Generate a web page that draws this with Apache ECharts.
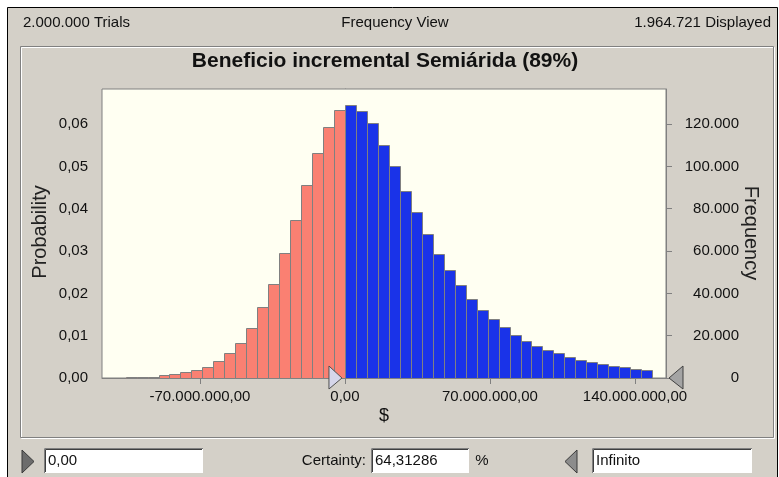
<!DOCTYPE html>
<html>
<head>
<meta charset="utf-8">
<script src="https://cdn.jsdelivr.net/npm/echarts@6/dist/echarts.min.js"></script>
<style>
  html, body { margin: 0; padding: 0; background: #fff; }
  #main { width: 779px; height: 477px; }
</style>
</head>
<body>
<div id="main"></div>
<script>
// histogram data (probability per bin)
const trials = 2000000;
const binStart = -105.9e6;
const binWidth = 5.296e6;
const probBelow = [0.0003, 0.0003, 0.0003, 0.0006, 0.0010, 0.0013, 0.0019, 0.0025, 0.0039, 0.0058,
  0.0083, 0.0117, 0.0167, 0.0223, 0.0295, 0.0373, 0.0455, 0.0531, 0.0593, 0.0633];
const probAbove = [0.0645, 0.0632, 0.0603, 0.0550, 0.0501, 0.0442, 0.0392, 0.0340, 0.0294, 0.0255,
  0.0219, 0.0186, 0.0160, 0.0140, 0.0120, 0.0101, 0.0088, 0.0075, 0.0065, 0.0058,
  0.0049, 0.0043, 0.0038, 0.0032, 0.0028, 0.0026, 0.0022, 0.0019];
const xTicks = [-70e6, 0, 70e6, 140e6];
const probTicks = [0, 0.01, 0.02, 0.03, 0.04, 0.05, 0.06];
const freqTicks = [0, 20000, 40000, 60000, 80000, 100000, 120000];
const xMin = -117.3e6;
const xMax = 155e6;
const probMax = 0.0683;

const FONT = '"Liberation Sans", Arial, sans-serif';

const thousands = (n) => {
  const s = Math.abs(Math.round(n)).toString().replace(/\B(?=(\d{3})+(?!\d))/g, ".");
  return (n < 0 ? "-" : "") + s;
};

const buildBins = (probs, offset) =>
  probs.map((p, i) => {
    const x0 = binStart + (offset + i) * binWidth;
    return [x0, x0 + binWidth, p];
  });

const barRenderer = (color) => (params, api) => {
  const a = api.coord([api.value(0), api.value(2)]);
  const b = api.coord([api.value(1), 0]);
  const x = Math.round(a[0]) + 0.5;
  const x2 = Math.round(b[0]) + 0.5;
  const y = Math.round(a[1]) + 0.5;
  const y2 = Math.round(b[1]) + 0.5;
  return {
    type: "rect",
    shape: { x: x, y: y, width: x2 - x, height: y2 - y },
    style: { fill: color, stroke: "#808080", lineWidth: 1 }
  };
};

const myChart = echarts.init(document.getElementById("main"));

const option = {
  backgroundColor: "#ffffff",
  animation: false,
  textStyle: { fontFamily: FONT },
  grid: {
    left: 102,
    top: 89,
    width: 564,
    height: 289,
    show: true,
    backgroundColor: "#fffff2",
    borderColor: "#808080",
    borderWidth: 1,
    z: 1
  },
  xAxis: {
    type: "value",
    min: xMin,
    max: xMax,
    axisLine: { show: true, lineStyle: { color: "#808080" } },
    axisTick: { show: true, length: 6, customValues: xTicks, lineStyle: { color: "#808080" } },
    axisLabel: {
      customValues: xTicks,
      color: "#111",
      fontSize: 15,
      margin: 11,
      formatter: (v) => thousands(v) + ",00"
    },
    splitLine: { show: false }
  },
  yAxis: [
    {
      type: "value",
      min: 0,
      max: probMax,
      interval: 0.01,
      axisLine: { show: true, lineStyle: { color: "#808080" } },
      axisTick: { show: true, length: 6, customValues: probTicks, lineStyle: { color: "#808080" } },
      axisLabel: {
        customValues: probTicks,
        color: "#111",
        fontSize: 15,
        margin: 14,
        formatter: (v) => v.toFixed(2).replace(".", ",")
      },
      splitLine: { show: true, lineStyle: { color: "#8a8a8a", width: 1 } }
    },
    {
      type: "value",
      min: 0,
      max: probMax * trials,
      interval: 20000,
      position: "right",
      axisLine: { show: true, lineStyle: { color: "#808080" } },
      axisTick: { show: true, length: 6, customValues: freqTicks, lineStyle: { color: "#808080" } },
      axisLabel: {
        customValues: freqTicks,
        color: "#111",
        fontSize: 15,
        align: "right",
        margin: 73,
        formatter: (v) => thousands(v)
      },
      splitLine: { show: false }
    }
  ],
  series: [
    {
      name: "Below",
      type: "custom",
      renderItem: barRenderer("#fa8072"),
      encode: { x: [0, 1], y: 2 },
      data: buildBins(probBelow, 0),
      z: 3
    },
    {
      name: "Above",
      type: "custom",
      renderItem: barRenderer("#1a33e8"),
      encode: { x: [0, 1], y: 2 },
      data: buildBins(probAbove, probBelow.length),
      z: 3
    }
  ]
};
myChart.setOption(option);

// window chrome, titles and the grabbers
const text = (x, y, str, opts) => Object.assign({
  type: "text",
  z: 10,
  style: Object.assign({
    x: x, y: y, text: str,
    font: "15px " + FONT,
    fill: "#111",
    align: "left",
    verticalAlign: "middle"
  }, opts || {})
});

const sunkenBox = (x, y, w, h) => ({
  type: "group",
  z: 10,
  children: [
    { type: "rect", shape: { x: x, y: y, width: w, height: h }, style: { fill: "#ffffff" } },
    { type: "polyline", shape: { points: [[x + 0.5, y + h], [x + 0.5, y + 0.5], [x + w, y + 0.5]] }, style: { stroke: "#808080", fill: null, lineWidth: 1 } },
    { type: "polyline", shape: { points: [[x + 1.5, y + h - 1], [x + 1.5, y + 1.5], [x + w - 1, y + 1.5]] }, style: { stroke: "#404040", fill: null, lineWidth: 1 } },
    { type: "polyline", shape: { points: [[x + 1, y + h - 0.5], [x + w - 0.5, y + h - 0.5], [x + w - 0.5, y + 1]] }, style: { stroke: "#ffffff", fill: null, lineWidth: 1 } }
  ]
});

const zeroPx = myChart.convertToPixel({ gridIndex: 0 }, [0, 0]);
const endPx = myChart.convertToPixel({ gridIndex: 0 }, [xMax, 0]);
const gy = Math.round(zeroPx[1]);

myChart.setOption({
  graphic: [
    { type: "rect", z: -5, shape: { x: 7.5, y: 7.5, width: 770, height: 480 }, style: { fill: "#d4d0c8", stroke: "#000000", lineWidth: 1 } },
    { type: "rect", z: -4, shape: { x: 21.5, y: 47.5, width: 753, height: 391 }, style: { fill: null, stroke: "#ffffff", lineWidth: 1 } },
    { type: "rect", z: -4, shape: { x: 20.5, y: 46.5, width: 753, height: 391 }, style: { fill: null, stroke: "#808080", lineWidth: 1 } },
    text(23, 23, "2.000.000 Trials"),
    text(395, 23, "Frequency View", { align: "center" }),
    text(771, 23, "1.964.721 Displayed", { align: "right" }),
    text(385, 61, "Beneficio incremental Semiárida (89%)", { align: "center", font: "bold 21px " + FONT }),
    {
      type: "text", z: 10, x: 40, y: 232, rotation: Math.PI / 2,
      style: { text: "Probability", x: 0, y: 0, font: "20px " + FONT, fill: "#222", align: "center", verticalAlign: "middle" }
    },
    {
      type: "text", z: 10, x: 751, y: 233, rotation: -Math.PI / 2,
      style: { text: "Frequency", x: 0, y: 0, font: "20px " + FONT, fill: "#222", align: "center", verticalAlign: "middle" }
    },
    text(384, 416, "$", { align: "center", font: "18px " + FONT }),
    // grabbers on the axis
    {
      type: "polygon", z: 12,
      shape: { points: [[zeroPx[0] - 16, gy - 12], [zeroPx[0] - 3, gy], [zeroPx[0] - 16, gy + 11]] },
      style: { fill: "#d6d6ea", stroke: "#505050", lineWidth: 1 }
    },
    {
      type: "polygon", z: 12,
      shape: { points: [[endPx[0] + 17, gy - 12], [endPx[0] + 3, gy], [endPx[0] + 17, gy + 11]] },
      style: { fill: "#a4a4a4", stroke: "#404040", lineWidth: 1 }
    },
    // bottom controls
    { type: "polygon", z: 10, shape: { points: [[22, 450], [34, 461.5], [22, 473]] }, style: { fill: "#6c6c6c", stroke: "#3a3a3a", lineWidth: 1 } },
    sunkenBox(44, 448, 159, 25),
    text(48, 461, "0,00"),
    text(366, 461, "Certainty:", { align: "right" }),
    sunkenBox(371, 448, 98, 25),
    text(375, 461, "64,31286"),
    text(482, 461, "%", { align: "center" }),
    { type: "polygon", z: 10, shape: { points: [[577, 450], [565, 461.5], [577, 473]] }, style: { fill: "#8c8c8c", stroke: "#3a3a3a", lineWidth: 1 } },
    sunkenBox(592, 448, 160, 25),
    text(596, 461, "Infinito")
  ]
});
</script>
</body>
</html>
